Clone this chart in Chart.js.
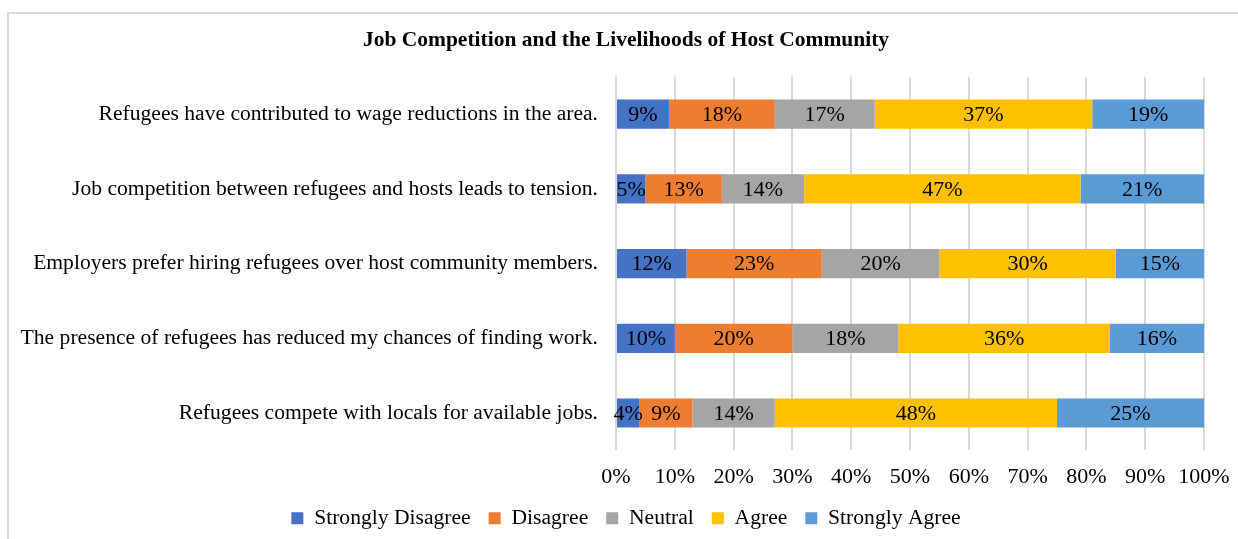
<!DOCTYPE html>
<html lang="en">
<head>
    <meta charset="UTF-8">
    <title>Job Competition and the Livelihoods of Host Community</title>
    <script src="https://cdn.jsdelivr.net/npm/chart.js"></script>
    <style>
        body { margin: 0; background: #fff; }
        #wrap { position: relative; width: 1238px; height: 539px; }
        #frame { position: absolute; left: 7px; top: 12px; right: 0; bottom: 0;
                 border-left: 2px solid #dadada; border-top: 2px solid #dadada; }
        #chart { position: absolute; left: 0; top: 0; }
    </style>
</head>
<body>
    <div id="wrap">
        <div id="frame"></div>
        <canvas id="chart" width="1238" height="539"></canvas>
    </div>

    <script>
        // Data
        const categories = [
            'Refugees have contributed to wage reductions in the area.',
            'Job competition between refugees and hosts leads to tension.',
            'Employers prefer hiring refugees over host community members.',
            'The presence of refugees has reduced my chances of finding work.',
            'Refugees compete with locals for available jobs.'
        ];
        const seriesNames = ['Strongly Disagree', 'Disagree', 'Neutral', 'Agree', 'Strongly Agree'];
        const stronglyDisagree = [9, 5, 12, 10, 4];
        const disagree = [18, 13, 23, 20, 9];
        const neutral = [17, 14, 20, 18, 14];
        const agree = [37, 47, 30, 36, 48];
        const stronglyAgree = [19, 21, 15, 16, 25];
        const seriesColors = ['#4472C4', '#ED7D31', '#A5A5A5', '#FFC000', '#5B9BD5'];

        const serif = 'Liberation Serif';

        // draws the value in the middle of each bar segment
        const barLabels = {
            id: 'barLabels',
            afterDatasetsDraw(chart) {
                const ctx = chart.ctx;
                ctx.save();
                ctx.font = '22px "' + serif + '"';
                ctx.fillStyle = '#000';
                ctx.textAlign = 'center';
                ctx.textBaseline = 'middle';
                chart.data.datasets.forEach((ds, i) => {
                    chart.getDatasetMeta(i).data.forEach((bar, j) => {
                        const p = bar.getCenterPoint();
                        ctx.fillText(ds.data[j] + '%', p.x, p.y + 1);
                    });
                });
                ctx.restore();
            }
        };

        // the long category labels reach past the left padding; don't clip them
        const widenLabelArea = {
            id: 'widenLabelArea',
            afterLayout(chart) { chart.scales.y.left = 0; }
        };

        const values = [stronglyDisagree, disagree, neutral, agree, stronglyAgree];

        new Chart(document.getElementById('chart'), {
            type: 'bar',
            data: {
                labels: categories,
                datasets: seriesNames.map((name, i) => ({
                    label: name,
                    data: values[i],
                    backgroundColor: seriesColors[i],
                    borderWidth: 0,
                    barPercentage: 0.39,
                    categoryPercentage: 1
                }))
            },
            options: {
                indexAxis: 'y',
                responsive: false,
                animation: false,
                layout: { padding: { left: 48, right: 34, top: 0, bottom: 0 } },
                plugins: {
                    title: {
                        display: true,
                        text: 'Job Competition and the Livelihoods of Host Community',
                        color: '#000',
                        font: { family: serif, size: 21.5, weight: 'bold' },
                        padding: { top: 28, bottom: 23 }
                    },
                    legend: {
                        position: 'bottom',
                        labels: {
                            color: '#000',
                            font: { family: serif, size: 21.6 },
                            boxWidth: 12,
                            boxHeight: 12,
                            padding: 18
                        }
                    },
                    tooltip: { enabled: false }
                },
                scales: {
                    x: {
                        stacked: true,
                        min: 0,
                        max: 100,
                        ticks: {
                            stepSize: 10,
                            color: '#000',
                            padding: 14,
                            font: { family: serif, size: 22 },
                            callback: v => v + '%'
                        },
                        grid: { color: '#d9d9d9', lineWidth: 2, drawTicks: false },
                        border: { display: false },
                        afterFit(scale) {
                            scale.height = 39;
                            scale.paddingLeft = 0;
                            scale.paddingRight = 0;
                        }
                    },
                    y: {
                        stacked: true,
                        ticks: {
                            color: '#000',
                            padding: 10,
                            font: { family: serif, size: 21.6 }
                        },
                        grid: { display: false },
                        border: { display: false },
                        afterFit(scale) { scale.width = 568; }
                    }
                }
            },
            plugins: [barLabels, widenLabelArea]
        });
    </script>
</body>
</html>
